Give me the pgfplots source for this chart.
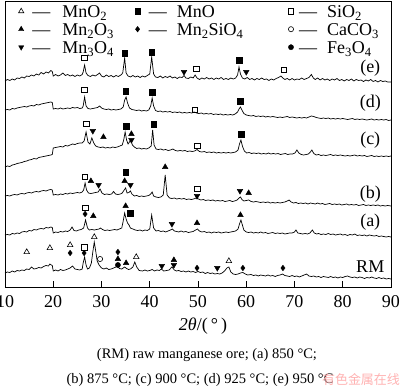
\documentclass[border=0pt]{standalone}
\usepackage{fontspec}
\setmainfont{Liberation Serif}
\newfontfamily\cjk{Noto Sans CJK SC}
\usepackage{pgfplots}
\pgfplotsset{compat=1.18}
\pgfplotsset{lgimg/.style={legend image code/.code={\path (-7pt,0pt) (7pt,0pt); \draw[##1] plot coordinates {(0pt,2.5pt)};}}}
\begin{document}
\begin{tikzpicture}[x=1pt,y=1pt]
\begin{axis}[
 scale only axis, width=386pt, height=286pt,
 xmin=10, xmax=90, ymin=0, ymax=286,
 axis line style={line width=0.8pt},
 xtick={10,20,...,90}, ytick=\empty,
 xtick pos=bottom, tick align=inside, major tick length=6pt,
 tick style={line width=0.8pt, black},
 /pgf/number format/assume math mode=true,
 ticklabel style={font=\fontsize{18}{18}\selectfont},
 xticklabel style={yshift=-5pt},
 legend cell align=left,
 legend columns=3,
 legend style={at={(rel axis cs:0,1)}, anchor=north west, xshift=9pt, yshift=-4.7pt,
   draw=none, fill=none, inner sep=0pt, outer sep=0pt,
   font=\fontsize{18}{18}\selectfont, column sep=0pt, row sep=2pt,
   nodes={inner sep=0pt, text height=12pt, text depth=4pt}},
]
% legend
\addlegendimage{lgimg, black, mark=triangle, mark size=3pt, mark options={fill=white, line width=0.6pt}}
\addlegendentry{\makebox[102pt][l]{\hspace{4pt}—\hspace{12pt}MnO\textsubscript{2}}}
\addlegendimage{lgimg, black, mark=square*, mark size=2.6pt}
\addlegendentry{\makebox[139pt][l]{\hspace{4pt}—\hspace{10pt}MnO}}
\addlegendimage{lgimg, black, mark=square, mark size=2.6pt, mark options={fill=white, line width=0.6pt}}
\addlegendentry{\hspace{1pt}—\hspace{10pt}SiO\textsubscript{2}}
\addlegendimage{lgimg, black, mark=triangle*, mark size=3pt}
\addlegendentry{\makebox[102pt][l]{\hspace{4pt}—\hspace{12pt}Mn\textsubscript{2}O\textsubscript{3}}}
\addlegendimage{lgimg, black, mark=diamond*, mark size=2.8pt}
\addlegendentry{\makebox[139pt][l]{\hspace{4pt}—\hspace{10pt}Mn\textsubscript{2}SiO\textsubscript{4}}}
\addlegendimage{lgimg, black, mark=o, mark size=2.6pt, mark options={line width=0.6pt}}
\addlegendentry{\hspace{1pt}—\hspace{10pt}CaCO\textsubscript{3}}
\addlegendimage{lgimg, black, mark=triangle*, mark size=3pt, mark options={rotate=180}}
\addlegendentry{\makebox[102pt][l]{\hspace{4pt}—\hspace{12pt}Mn\textsubscript{3}O\textsubscript{4}}}
\addlegendimage{empty legend}
\addlegendentry{\makebox[139pt][l]{}}
\addlegendimage{lgimg, black, mark=*, mark size=2.6pt}
\addlegendentry{\hspace{1pt}—\hspace{10pt}Fe\textsubscript{3}O\textsubscript{4}}

% RM
\addplot[black, line width=0.7pt, forget plot] coordinates {
(10,14)(10.5,15)(11,14.5)(11.5,16)(12,15)(12.5,16.5)(13,16)(13.5,17)(14,16.5)(14.5,18)(15,17.5)(15.5,20)(16,18)(16.5,18.5)(17,19.5)(17.5,19)(18,20.5)(18.5,21.5)(19,21)(19.3,23)(19.6,22)(19.8,21.5)(20.0,16)(20.5,17)(21,16)(21.5,17.5)(22,16.5)(22.5,17)(23,18)(23.5,19)(24,21)(24.5,18)(25,17.5)(25.5,17)(26,18)(26.2,24)(26.5,30)(26.8,22)(27.1,18)(27.5,19)(27.9,24)(28.2,35)(28.5,45)(28.8,36)(29.1,26)(29.5,22)(30,19)(30.5,18)(31,19)(31.5,17.5)(32,18)(32.5,19)(33,20)(33.3,21)(33.7,18.5)(34.2,18)(34.8,20)(35.2,18.5)(35.6,17.5)(36,18)(36.5,20)(36.9,25)(37.3,20)(37.8,16.5)(38.5,16)(39,17)(39.5,16)(40,16.5)(40.5,17.5)(41,16)(41.5,17)(42,16.5)(42.4,18)(42.9,16)(43.5,16.5)(44,17)(44.6,20)(45.1,17)(45.5,16)(46,16.5)(46.5,15.5)(47,16)(47.5,15)(48,16)(48.5,15)(49,15.5)(49.5,14.5)(50,15.5)(50.5,14.5)(51,15)(51.5,13.5)(52,14.5)(52.5,13.5)(53,14)(53.5,13)(54,13.5)(54.5,13)(55,14)(55.5,16)(56,19)(56.4,20)(56.8,15)(57.3,13)(57.8,12.5)(58.3,13)(58.8,14)(59.3,14.5)(59.8,13)(60.3,12)(61,12.5)(61.5,11.5)(62,12)(62.5,11)(63,12)(63.5,11.5)(64,11)(64.5,12)(65,11)(65.5,11.5)(66,10.5)(66.5,11.5)(67,12)(67.5,13)(68,11.5)(68.5,11)(69,10.5)(69.5,11.5)(70,10.5)(70.5,11)(71,10)(71.5,11)(72,12)(72.5,13)(73,11)(73.5,10.5)(74,11)(74.5,10)(75,10.5)(75.5,9.5)(76,10.5)(76.5,10)(77,9.5)(77.5,10.5)(78,9.5)(78.5,10)(79,9)(79.5,10)(80,9.5)(80.5,10.5)(81,11)(81.5,10)(82,9.5)(82.5,10)(83,9)(83.5,10)(84,9.5)(84.5,8.5)(85,9.5)(85.5,9)(86,10)(86.5,9)(87,8.5)(87.5,9.5)(88,8.5)(88.5,9)(89,8)(89.5,8.5)(90,8)};
% (a)
\addplot[black, line width=0.7pt, forget plot] coordinates {
(10,52)(10.5,52.5)(11,52)(11.5,53.5)(12,53)(12.5,54)(13,53.5)(13.5,55)(14,55.5)(14.5,55)(15,56.5)(15.5,56)(16,57.5)(16.5,57)(17,58)(17.5,58.5)(18,58)(18.5,59.5)(19,59)(19.5,60)(19.8,59.5)(20.0,54)(20.5,55)(21,54.5)(21.5,55.5)(22,55)(22.5,56)(23,55.5)(23.5,57)(23.9,60)(24.3,56.5)(24.8,56)(25.3,57)(25.8,57.5)(26.3,59)(26.7,67)(27.1,59)(27.5,57)(28,57.5)(28.5,57)(29,57.5)(29.5,58)(29.8,59)(30.2,57.5)(30.7,56.5)(31.2,57)(31.7,56.5)(32.2,57)(32.7,57.5)(33.2,57)(33.7,58)(34.2,59)(34.5,66)(34.8,74)(35.1,68)(35.4,64)(35.7,62)(36,59)(36.5,58)(37,57)(37.5,56.5)(38,57)(38.5,56)(39,57)(39.5,56.5)(40,58)(40.4,72)(40.8,59)(41.3,56)(41.8,56.5)(42.3,55.5)(42.8,56)(43.3,55)(43.8,56)(44.3,57)(44.7,58)(45.1,56)(45.6,55.5)(46,55)(46.5,56)(47,55)(47.5,55.5)(48,54.5)(48.5,55)(49,55.5)(49.5,57)(49.9,58)(50.3,56)(50.8,55)(51.3,55.5)(51.8,54.5)(52.3,55)(52.8,54)(53.3,55)(53.8,54.5)(54.3,55)(54.8,54)(55.3,54.5)(55.8,55)(56.3,54.5)(56.8,55)(57.3,55.5)(57.8,56)(58.3,58)(58.6,63)(58.9,67)(59.2,62)(59.5,57)(60,55)(60.5,54.5)(61,55)(61.5,54)(62,54.5)(62.5,54)(63,55)(63.5,54)(64,54.5)(64.5,53.5)(65,54)(65.5,54.5)(66,53.5)(66.5,54)(67,53.5)(67.5,54)(68,53)(68.5,53.5)(69,54)(69.5,54)(70,55)(70.3,57)(70.7,54)(71.2,53.5)(71.7,53)(72.2,53.5)(72.7,53)(73.2,54)(73.7,57)(74.1,54)(74.6,53)(75,53.5)(75.5,52.5)(76,53)(76.5,52.5)(77,53.5)(77.5,52.5)(78,53)(78.5,52)(79,52.5)(79.5,53)(80,52)(80.5,52.5)(81,51.5)(81.5,52.5)(82,52)(82.5,53)(83,51.5)(83.5,52)(84,51.5)(84.5,52)(85,51)(85.5,52)(86,51.5)(86.5,51)(87,51.5)(87.5,50.5)(88,51)(88.5,50.5)(89,50)(89.5,50.5)(90,50)};
% (b)
\addplot[black, line width=0.7pt, forget plot] coordinates {
(10,91)(10.5,91.5)(11,91)(11.5,92)(12,92.5)(12.5,92)(13,93)(13.5,93.5)(14,93)(14.5,94)(15,94.5)(15.5,94)(16,95)(16.5,95.5)(17,95)(17.5,96)(18,96.5)(18.5,96)(19,97)(19.5,97.5)(19.8,97)(20,92)(20.5,92.5)(21,92)(21.5,93)(22,92.5)(22.5,93.5)(23,93)(23.5,94)(24,93.5)(24.5,94)(25,94.5)(25.5,94)(26,95)(26.3,97)(26.6,104)(26.9,97)(27.3,94)(27.8,93.5)(28.3,94)(28.8,94.5)(29.3,95)(29.7,98)(30.1,94)(30.6,92.5)(31.1,93)(31.6,92.5)(32.1,93)(32.5,95.5)(32.9,93)(33.4,92.5)(33.9,93)(34.3,94)(34.7,97)(35.0,99)(35.3,94)(35.7,94.5)(36.0,96)(36.3,93)(36.8,91)(37.3,91.5)(37.8,90.5)(38.3,91)(38.8,90.5)(39.3,91)(39.8,91.5)(40.2,93)(40.5,95)(40.8,91)(41.3,90)(41.8,89.5)(42.3,90)(42.8,92)(43.2,112)(43.6,92)(44.1,89)(44.6,88.5)(45.1,89)(45.6,88)(46.1,88.5)(46.6,88)(47.1,88.5)(47.6,87.5)(48.1,88)(48.6,87.5)(49.1,88)(49.6,89)(50.1,88)(50.6,87)(51.1,87.5)(51.6,86.5)(52.1,87)(52.6,86.5)(53.1,87)(53.6,86)(54.1,86.5)(54.6,86)(55.1,86.5)(55.6,85.5)(56.1,86)(56.6,86.5)(57.1,85.5)(57.6,86)(58.1,87)(58.5,89)(58.8,90)(59.1,87.5)(59.5,86)(60,86.5)(60.5,87)(61,85.5)(61.5,85)(62,85.5)(62.5,85)(63,84.5)(63.5,85)(64,84.5)(64.5,85)(65,84)(65.5,84.5)(66,84)(66.5,84.5)(67,84)(67.5,84.5)(68,85)(68.5,86)(68.9,87)(69.3,85)(69.8,84)(70.3,84.5)(70.8,83.5)(71.3,84)(71.8,83.5)(72.3,84)(72.8,83)(73.3,84)(73.8,83.5)(74.3,83)(74.8,84)(75.3,83)(75.8,83.5)(76.3,82.5)(76.8,83)(77.3,83.5)(77.8,82.5)(78.3,83)(78.8,82.5)(79.3,83)(79.8,82)(80.3,82.5)(80.8,83)(81.3,82)(81.8,82.5)(82.3,82)(82.8,82.5)(83.3,81.5)(83.8,82)(84.3,82.5)(84.8,81.5)(85.3,82)(85.8,81.5)(86.3,82)(86.8,81.5)(87.3,82)(87.8,81)(88.3,81.5)(88.8,81)(89.3,81.5)(90,81)};
% (c)
\addplot[black, line width=0.7pt, forget plot] coordinates {
(10,120)(10.5,121)(11,120.5)(11.5,122)(12,122.5)(12.5,123.5)(13,124)(13.5,124.5)(14,125.5)(14.5,126)(15,127)(15.5,127.5)(16,128.5)(16.5,128)(17,129.5)(17.5,130)(18,130.5)(18.5,131)(19,131.5)(19.5,132)(19.8,132.5)(20,139)(20.5,139.5)(21,140)(21.5,140.5)(22,140)(22.5,141.5)(23,141)(23.5,142)(24,143)(24.5,142.5)(25,143.5)(25.5,144)(26,144)(26.4,146)(26.8,155)(27.2,145)(27.6,143)(28.0,149)(28.4,144)(28.8,141)(29.3,140)(29.8,139.5)(30.3,140)(30.8,139)(31.3,139.5)(31.8,139)(32.3,140)(32.8,139.5)(33.3,140)(33.8,141)(34.3,142)(34.6,147)(34.9,155)(35.2,147)(35.5,143)(35.8,145)(36.1,147)(36.4,142)(36.8,140)(37.3,138.5)(37.8,139)(38.3,138)(38.8,138.5)(39.3,138)(39.8,139)(40.3,141)(40.6,157)(40.9,142)(41.3,138)(41.8,137.5)(42.3,138)(42.8,137)(43.3,137.5)(43.8,136.5)(44.3,137)(44.8,138)(45.3,136.5)(45.8,136)(46.3,136.5)(46.8,136)(47.3,136.5)(47.8,135.5)(48.3,136)(48.8,135.5)(49.3,136)(49.8,137.5)(50.3,135.5)(50.8,135)(51.3,135.5)(51.8,134.5)(52.3,135)(52.8,134.5)(53.3,135)(53.8,134)(54.3,134.5)(54.8,134)(55.3,134.5)(55.8,134)(56.3,134.5)(56.8,134)(57.3,134.5)(57.8,135)(58.3,137)(58.6,143)(58.9,147)(59.2,141)(59.6,136)(60.1,134)(60.6,134.5)(61.1,133.5)(61.6,134)(62.1,133.5)(62.6,134)(63.1,133)(63.6,133.5)(64.1,133)(64.6,134)(65.1,133)(65.6,133.5)(66.1,133)(66.6,133.5)(67.1,132.5)(67.6,133)(68.1,133.5)(68.6,132.5)(69.1,133)(69.6,133)(70.1,134)(70.5,137)(70.9,134)(71.4,132.5)(71.9,132)(72.4,132.5)(72.9,133)(73.3,135)(73.6,137)(74,133.5)(74.5,132)(75,132.5)(75.5,131.5)(76,132)(76.5,131.5)(77,132)(77.5,132.5)(78,131.5)(78.5,132)(79,131.5)(79.5,132)(80,131.5)(80.5,131)(81,131.5)(81.5,131)(82,131.5)(82.5,132)(83,131)(83.5,131.5)(84,131)(84.5,131.5)(85,130.5)(85.5,131)(86,131.5)(86.5,130.5)(87,131)(87.5,130.5)(88,131)(88.5,130.5)(89,131)(89.5,130.5)(90,131)};
% (d)
\addplot[black, line width=0.7pt, forget plot] coordinates {
(10,177)(10.5,177.5)(11,177)(11.5,178.5)(12,178)(12.5,179)(13,179.5)(13.5,180)(14,180.5)(14.5,180)(15,181)(15.5,181.5)(16,181)(16.5,182.5)(17,182)(17.5,183)(18,183.5)(18.5,184)(19,184.5)(19.5,185)(19.8,184.5)(20,178)(20.5,178.5)(21,178)(21.5,179)(22,178)(22.5,178.5)(23,179)(23.5,178.5)(24,179.5)(24.5,179)(25,179.5)(25.5,178.5)(26,179)(26.2,181)(26.5,190)(26.8,181)(27.2,178.5)(27.7,178)(28.2,178.5)(28.7,179)(29.2,179.5)(29.6,181)(30.0,179)(30.5,178)(31,177.5)(31.5,178)(32,177)(32.5,177.5)(33,177)(33.5,177.5)(34,178)(34.5,180)(34.8,187)(35.1,190)(35.4,184)(35.8,179)(36.3,177.5)(36.8,177)(37.3,176.5)(37.8,177)(38.3,176)(38.8,176.5)(39.3,176)(39.8,177)(40.2,181)(40.5,189)(40.8,181)(41.2,176.5)(41.7,175.5)(42.2,176)(42.7,175)(43.2,175.5)(43.7,175)(44.2,175.5)(44.7,174.5)(45.2,175)(45.7,174.5)(46.2,175)(46.7,174)(47.2,174.5)(47.7,174)(48.2,174.5)(48.7,174)(49.2,175)(49.7,174)(50.2,173.5)(50.7,174)(51.2,173)(51.7,173.5)(52.2,173)(52.7,173.5)(53.2,172.5)(53.7,173)(54.2,172.5)(54.7,173)(55.2,172)(55.7,172.5)(56.2,172)(56.7,172.5)(57.2,172)(57.7,173)(58.2,175)(58.5,178)(58.8,180)(59.1,177)(59.5,173.5)(60,172)(60.5,171.5)(61,171)(61.5,171.5)(62,170.5)(62.5,171)(63,170.5)(63.5,171)(64,170)(64.5,170.5)(65,170)(65.5,170.5)(66,170)(66.5,169.5)(67,170)(67.5,169.5)(68,170)(68.5,170.5)(69,169.5)(69.5,170)(70,169.5)(70.5,169)(71,169.5)(71.5,169)(72,169.5)(72.5,169)(73,170)(73.5,171)(74,170.5)(74.5,169.5)(75,169)(75.5,168.5)(76,169)(76.5,168.5)(77,169)(77.5,168)(78,168.5)(78.5,168)(79,168.5)(79.5,168)(80,168.5)(80.5,168)(81,167.5)(81.5,168)(82,168.5)(82.5,167.5)(83,168)(83.5,167.5)(84,168)(84.5,167.5)(85,167)(85.5,167.5)(86,168)(86.5,167)(87,167.5)(87.5,167)(88,167.5)(88.5,167)(89,167.5)(89.5,166.5)(90,167)};
% (e)
\addplot[black, line width=0.7pt, forget plot] coordinates {
(10,206)(10.5,207.5)(11,206.5)(11.5,208)(12,207)(12.5,209)(13,208.5)(13.5,210)(14,209)(14.5,211)(15,210.5)(15.5,212)(16,211)(16.5,213)(17,212)(17.5,214.5)(18,213)(18.5,215)(19,214)(19.5,216.5)(19.8,215.5)(20,211)(20.5,212.5)(21,211)(21.5,212)(22,214)(22.5,211.5)(23,212.5)(23.5,211)(24,212)(24.5,210.5)(25,212)(25.5,211)(26,212.5)(26.2,215)(26.5,222)(26.8,214)(27.2,211.5)(27.7,210.5)(28.2,212)(28.7,211)(29.2,212.5)(29.6,214)(30,211)(30.5,210)(31,212)(31.5,210.5)(32,211.5)(32.5,210)(33,211.5)(33.5,210.5)(34,212)(34.4,214)(34.8,229)(35.1,214)(35.5,211)(36,210)(36.5,211.5)(37,210)(37.5,211)(38,209.5)(38.5,211)(39,210)(39.5,211.5)(40,213)(40.4,230)(40.8,213)(41.2,210)(41.7,209.5)(42.2,211)(42.7,209)(43.2,210.5)(43.7,209.5)(44.2,211)(44.7,209)(45.2,210)(45.7,208.5)(46.2,210)(46.7,209.5)(47.1,211.5)(47.5,209)(48,208.5)(48.5,210)(49,209)(49.4,212)(49.8,209)(50.3,207.5)(50.8,209)(51.3,208)(51.8,209.5)(52.3,208)(52.8,209)(53.3,207.5)(53.8,209)(54.3,208)(54.8,209.5)(55.3,207.5)(55.8,208.5)(56.3,207.5)(56.8,209)(57.3,208)(57.8,209)(58.2,212)(58.5,220)(58.8,213)(59.2,209)(59.7,208)(60.2,209.5)(60.7,207.5)(61.2,208.5)(61.7,207)(62.2,208.5)(62.7,207.5)(63.2,209)(63.7,207.5)(64.2,208)(64.7,206.5)(65.2,208)(65.7,207)(66.2,208.5)(66.7,209.5)(67.2,211)(67.6,209)(68,207.5)(68.5,208.5)(69,207)(69.5,208.5)(70,207)(70.5,208)(71,207.5)(71.5,209)(72,207.5)(72.5,208.5)(73,209.5)(73.5,212.5)(73.9,209)(74.3,207.5)(74.8,209)(75.3,207)(75.8,208.5)(76.3,207)(76.8,208)(77.3,206.5)(77.8,208)(78.3,207)(78.8,208.5)(79.3,206.5)(79.8,207.5)(80.3,206)(80.8,207.5)(81.3,206.5)(81.8,208)(82.3,206)(82.8,207.5)(83.3,206.5)(83.8,207)(84.3,205.5)(84.8,207)(85.3,206)(85.8,207.5)(86.3,205.5)(86.8,206.5)(87.3,205)(87.8,206.5)(88.3,205.5)(88.8,206)(89.3,205)(90,205)};

% phase markers
\addplot[only marks, black, mark=triangle, mark size=3.2pt, mark options={fill=white, line width=0.6pt}, forget plot] coordinates {
(14.5,35)(19.3,39)(23.5,42)(28.5,50)(37.2,30)(56.4,26)};
\addplot[only marks, black, mark=square*, mark size=2.8pt, forget plot] coordinates {
(34.8,234)(40.4,235)(58.5,227)(35.0,196)(40.5,195)(58.8,186)(35.1,161)(40.8,163)(58.9,153)(35.0,115)(35.9,74)};
\addplot[only marks, black, mark=square, mark size=2.8pt, mark options={fill=white, line width=0.6pt}, forget plot] coordinates {
(26.4,229)(49.6,218)(67.8,217)(26.4,197)(49.3,177)(26.9,163)(49.8,141)(26.5,110)(49.8,98)(26.6,79)(26.4,40)};
\addplot[only marks, black, mark=triangle*, mark size=3.2pt, forget plot] coordinates {
(30.4,150)(36.2,153)(27.8,106)(34.8,106)(43.2,120)(60.5,94)(28.3,71)(35.0,81)(49.8,64)(58.8,72)(33.4,28)(35.1,24)(45.0,27)};
\addplot[only marks, black, mark=triangle*, mark size=3.2pt, mark options={rotate=180}, forget plot] coordinates {
(47.1,215)(60.0,215)(28.2,156)(36.2,147)(29.4,102)(36.0,102)(49.8,91)(58.7,96)(44.6,63)(42.5,21)(45.0,22)(54.0,19)};
\addplot[only marks, black, mark=diamond*, mark size=2.8pt, forget plot] coordinates {
(26.6,73)(23.5,34)(26.4,34)(33.4,35)(49.8,19)(59.3,19)(67.6,19)};
\addplot[only marks, black, mark=o, mark size=2.6pt, mark options={line width=0.6pt}, forget plot] coordinates {(29.7,28)};
\addplot[only marks, black, mark=*, mark size=2.6pt, forget plot] coordinates {(33.4,22)};

\node[font=\fontsize{18}{18}\selectfont, inner sep=1pt] at (axis cs:85.7,219) {(e)};
\node[font=\fontsize{18}{18}\selectfont, inner sep=1pt] at (axis cs:85.7,184) {(d)};
\node[font=\fontsize{18}{18}\selectfont, inner sep=1pt] at (axis cs:85.7,147) {(c)};
\node[font=\fontsize{18}{18}\selectfont, inner sep=1pt] at (axis cs:85.7,93) {(b)};
\node[font=\fontsize{18}{18}\selectfont, inner sep=1pt] at (axis cs:85.7,65) {(a)};
\node[font=\fontsize{18}{18}\selectfont, inner sep=1pt] at (axis cs:85.7,20) {RM};
\end{axis}
\node[font=\fontsize{18}{18}\selectfont] at (198,-39) {\textit{2θ}/(\,°\,)};
\node[font=\fontsize{14.5}{14.5}\selectfont] at (202,-68) {(RM) raw manganese ore; (a) 850 °C;};
\node[font=\fontsize{14.5}{14.5}\selectfont] at (195,-93) {(b) 875 °C; (c) 900 °C; (d) 925 °C; (e) 950 °C};
\node[font=\cjk\fontsize{13}{13}\selectfont, text=red!30] at (356,-93) {有色金属在线};
\pgfresetboundingbox
\path[use as bounding box] (-5,-102) rectangle (395,287);
\end{tikzpicture}
\end{document}
